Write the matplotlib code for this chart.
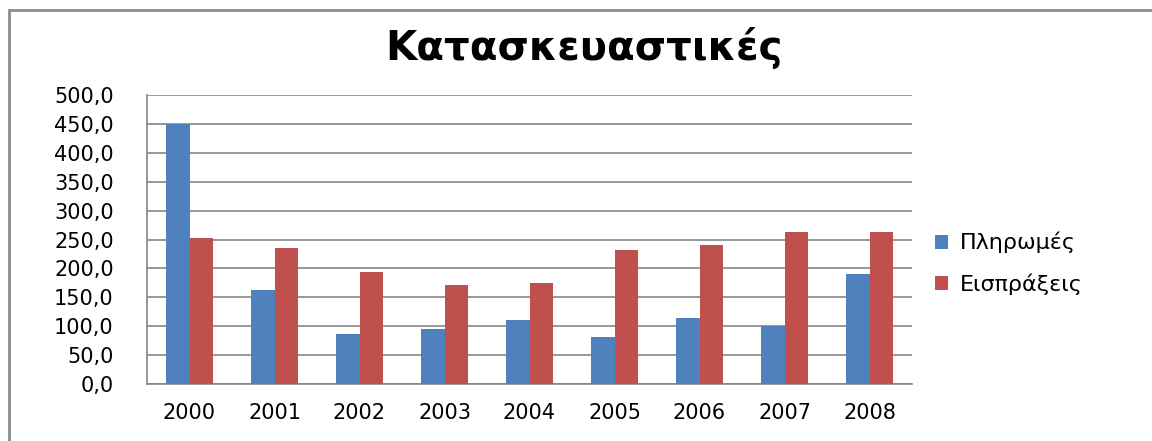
import matplotlib
matplotlib.use("Agg")
import matplotlib.pyplot as plt
from matplotlib.patches import Rectangle
import numpy as np

years = ["2000", "2001", "2002", "2003", "2004", "2005", "2006", "2007", "2008"]
payments = [450.0, 163.0, 87.0, 96.0, 111.0, 82.0, 115.0, 101.0, 191.0]
receipts = [253.0, 236.0, 194.0, 172.0, 175.0, 232.0, 241.0, 263.5, 263.5]
series_names = ["Πληρωμές", "Εισπράξεις"]
title = "Κατασκευαστικές"
yticks = [0, 50, 100, 150, 200, 250, 300, 350, 400, 450, 500]

blue = "#4F81BD"
red = "#C0504D"
grid = "#868686"

plt.rcParams['font.family'] = ['DejaVu Sans']

fig = plt.figure(figsize=(11.52, 4.41), dpi=100)
ax = fig.add_axes([147/1152, 1-384/441, (912-147)/1152, (384-95)/441])

x = np.arange(len(years))
w = 0.28
ax.bar(x - w/2, payments, width=w, color=blue, label=series_names[0], zorder=3)
ax.bar(x + w/2, receipts, width=w, color=red, label=series_names[1], zorder=3)

ax.set_xlim(-0.5, len(years) - 0.5)
ax.set_ylim(0, 500)
ax.set_yticks(yticks)
ax.set_yticklabels([f"{v:.1f}".replace(".", ",") for v in yticks], fontsize=15)
ax.set_xticks(x)
ax.set_xticklabels(years, fontsize=15)
ax.tick_params(axis='x', length=0, pad=14)
ax.tick_params(axis='y', length=0, pad=24)
ax.yaxis.grid(True, color=grid, linewidth=1.2, zorder=0)
ax.set_axisbelow(True)
for s in ['top', 'right']:
    ax.spines[s].set_visible(False)
for s in ['left', 'bottom']:
    ax.spines[s].set_color(grid)
    ax.spines[s].set_linewidth(1.2)

fig.text(584/1152, 1-48/441, title, fontsize=29, fontweight='bold', ha='center', va='center')

leg = fig.legend(loc='upper left', bbox_to_anchor=(915/1152, 1-212/441), frameon=False,
                 fontsize=16, handlelength=0.6, handleheight=0.6, labelspacing=0.9,
                 handletextpad=0.5)

fig.patches.append(Rectangle((9/1152, -0.1), 1.2, 1-10/441+0.1, transform=fig.transFigure,
                             fill=False, edgecolor="#8C8C8C", linewidth=2))

fig.savefig("out.png", dpi=100)
